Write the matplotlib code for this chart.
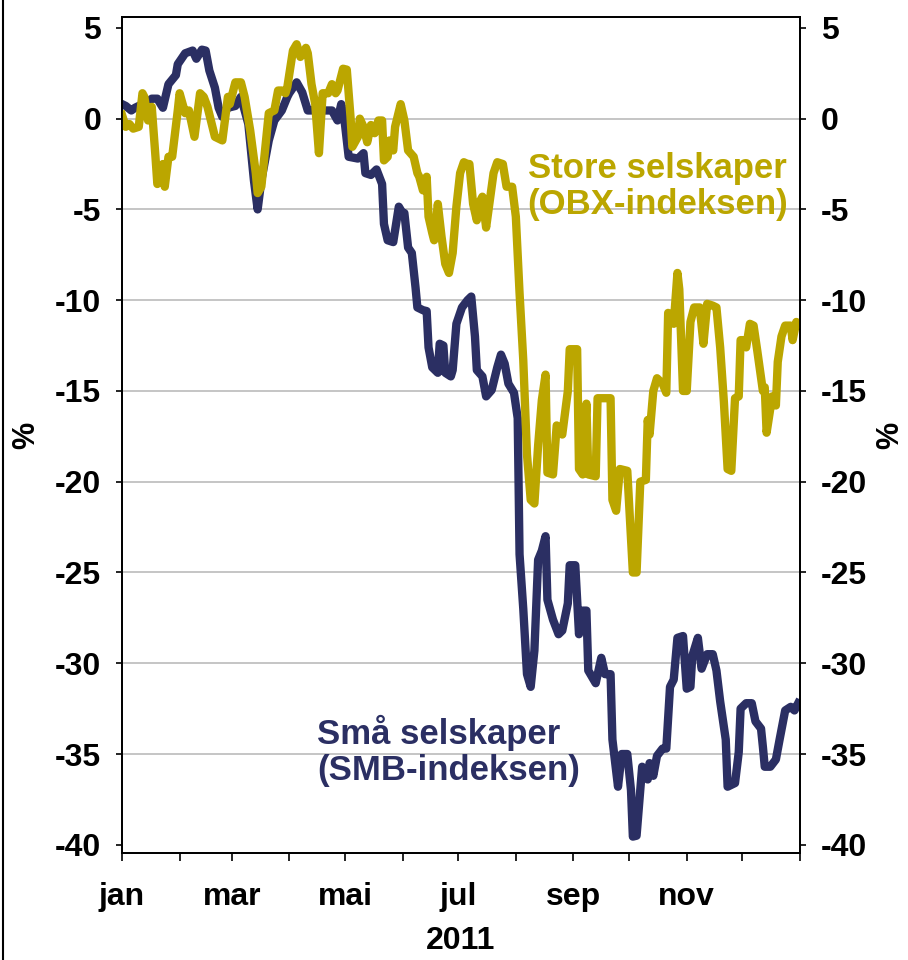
import matplotlib
matplotlib.use('Agg')
import matplotlib.pyplot as plt
import matplotlib.dates as mdates
import numpy as np
import pandas as pd

plt.rcParams['font.family'] = ['Liberation Sans', 'DejaVu Sans']
plt.rcParams['font.weight'] = 'bold'
plt.rcParams['axes.labelweight'] = 'bold'
plt.rcParams['axes.unicode_minus'] = False

# Små selskaper (SMB-indeksen), day of 2011 and % change
smb_days = [0, 2, 5, 7, 11, 14, 16, 19, 22, 25, 29, 30, 34, 38, 40, 43, 45, 47, 50, 52,
            54, 57, 61, 64, 68, 71, 73, 75, 79, 82, 86, 89, 90, 94, 97, 100, 102, 106, 109, 113,
            116, 118, 120, 122, 127, 130, 131, 134, 137, 140, 141, 143, 146, 149, 151, 152, 154, 156, 158, 159,
            162, 164, 165, 167, 170, 171, 173, 174, 177, 178, 180, 183, 186, 188, 190, 191, 194, 196, 199, 202,
            204, 206, 208, 211, 213, 214, 216, 218, 220, 222, 224, 226, 228, 229, 232, 235, 237, 240, 241, 244,
            246, 248, 250, 251, 255, 258, 260, 263, 264, 267, 269, 272, 274, 275, 277, 279, 280, 283, 284, 286,
            288, 291, 293, 295, 297, 299, 302, 304, 306, 307, 310, 312, 315, 318, 320, 322, 325, 326, 330, 332,
            333, 336, 339, 341, 344, 345, 346, 349, 352, 354, 357, 360, 362, 364]
smb_vals = [0.8, 0.7, 0.45, 0.6, 0.8, 0.9, 1.1, 1.1, 0.6, 1.9, 2.4, 3.0, 3.6, 3.75, 3.3, 3.8, 3.75, 2.65, 1.7, 0.6,
            0.1, 0.6, 0.7, 1.2, -0.3, -3.4, -5.0, -3.4, -1.2, -0.1, 0.45, 1.2, 1.4, 2.0, 1.45, 0.45, 0.45, 0.65, 0.45, 0.45,
            -0.1, 0.8, -0.3, -2.1, -2.2, -1.9, -3.0, -3.1, -2.8, -3.6, -5.8, -6.7, -6.8, -4.85, -5.2, -5.2, -7.1, -7.4, -9.3, -10.4,
            -10.55, -10.6, -12.6, -13.7, -14.0, -12.4, -12.5, -14.0, -14.2, -13.85, -11.3, -10.4, -10.0, -9.8, -12.0, -13.85, -14.2, -15.3, -14.95, -13.7,
            -13.0, -13.5, -14.6, -15.1, -16.5, -24.0, -27.0, -30.6, -31.3, -29.3, -24.3, -23.8, -23.0, -26.5, -27.6, -28.4, -28.2, -26.7, -24.6, -24.6,
            -28.4, -27.1, -27.1, -30.4, -31.1, -29.7, -30.6, -30.6, -34.2, -36.8, -35.0, -35.0, -37.0, -39.55, -39.5, -37.0, -35.7, -36.4, -35.5, -36.2,
            -35.1, -34.7, -34.7, -31.3, -30.9, -28.6, -28.5, -31.4, -31.3, -29.6, -28.6, -30.3, -29.5, -29.5, -30.4, -32.1, -34.2, -36.8, -36.6, -34.9,
            -32.5, -32.2, -32.2, -33.2, -33.6, -34.6, -35.7, -35.7, -35.3, -34.2, -32.6, -32.4, -32.6, -32.2]

# Store selskaper (OBX-indeksen)
obx_days = [0, 2, 4, 6, 9, 11, 12, 14, 16, 18, 19, 22, 23, 25, 27, 30, 31, 34, 36, 39,
            42, 44, 46, 50, 54, 57, 58, 61, 64, 66, 69, 72, 73, 75, 77, 79, 82, 84, 86, 88,
            89, 92, 94, 96, 99, 100, 102, 104, 106, 108, 111, 113, 115, 116, 119, 121, 123, 124, 127, 128,
            130, 132, 134, 136, 138, 140, 141, 143, 144, 146, 147, 150, 152, 154, 157, 159, 160, 162, 164, 165,
            167, 168, 170, 172, 174, 176, 178, 180, 182, 184, 186, 187, 189, 191, 193, 194, 196, 198, 200, 202,
            205, 207, 210, 212, 214, 216, 218, 220, 222, 224, 226, 228, 229, 232, 234, 237, 240, 241, 245, 246,
            248, 250, 251, 255, 256, 263, 264, 266, 268, 272, 275, 277, 279, 282, 283, 284, 286, 288, 291, 293,
            294, 297, 299, 300, 302, 304, 306, 308, 311, 313, 315, 318, 320, 322, 324, 326, 328, 330, 332, 333,
            334, 336, 338, 340, 342, 345, 346, 347, 350, 352, 353, 355, 357, 360, 361, 363, 364]
obx_vals = [0.2, -0.45, -0.3, -0.55, -0.45, 1.4, 1.2, -0.1, 0.65, -2.1, -3.6, -2.5, -3.75, -2.1, -2.1, 0.45, 1.4, 0.3, 0.45, -1.0,
            1.4, 1.2, 0.65, -1.0, -1.2, 1.2, 0.8, 2.0, 2.0, 1.2, -0.65, -3.0, -4.1, -3.75, -1.75, 0.3, 0.45, 1.55, 1.55, 1.4,
            1.75, 3.75, 4.1, 3.4, 3.9, 3.6, 1.9, 0.8, -1.9, 1.4, 1.4, 1.9, 1.4, 1.55, 2.75, 2.7, 0.1, -1.55, -1.0, 0.0,
            -0.45, -1.3, -0.35, -0.8, -0.1, -0.1, -2.3, -2.1, -1.2, -1.75, -0.45, 0.8, -0.1, -1.75, -2.1, -3.0, -3.2, -3.95, -3.2, -5.4,
            -6.3, -6.7, -4.7, -6.5, -8.0, -8.5, -7.4, -4.85, -3.0, -2.4, -2.5, -2.5, -4.7, -5.6, -4.5, -4.3, -6.0, -4.5, -3.0, -2.4,
            -2.5, -3.75, -3.75, -5.4, -9.6, -13.3, -18.5, -21.0, -21.2, -18.0, -15.5, -14.1, -19.5, -19.6, -16.9, -17.4, -15.0, -12.7, -12.7, -19.3,
            -19.6, -15.7, -19.6, -19.7, -15.4, -15.4, -21.0, -21.6, -19.3, -19.4, -25.0, -25.0, -20.0, -19.9, -16.6, -17.4, -15.0, -14.3, -14.6, -15.1,
            -10.7, -11.3, -8.5, -9.4, -15.0, -15.0, -11.2, -10.4, -10.4, -12.4, -10.2, -10.3, -10.4, -12.6, -15.6, -19.3, -19.4, -15.4, -15.3, -12.2,
            -12.2, -12.6, -11.3, -11.4, -12.8, -15.0, -14.8, -17.3, -15.3, -15.8, -13.4, -12.0, -11.4, -11.4, -12.2, -11.2, -11.3]

label_dates = ['2011-01-01', '2011-03-01', '2011-05-01', '2011-07-01', '2011-09-01', '2011-11-01']
month_labels = ['jan', 'mar', 'mai', 'jul', 'sep', 'nov']
yticks = np.arange(-40, 6, 5)

navy = '#2B2F63'
gold = '#BBA600'

start = pd.Timestamp('2011-01-01')
smb_dates = start + pd.to_timedelta(smb_days, unit='D')
obx_dates = start + pd.to_timedelta(obx_days, unit='D')

fig = plt.figure(figsize=(9.08, 9.6), dpi=100)
ax = fig.add_axes([0.1344, 0.1115, 0.7467, 0.8708])

for y in yticks[1:-1]:
    ax.axhline(y, color='#C0C0C0', lw=1.3, zorder=0)

ax.plot(smb_dates, smb_vals, color=navy, lw=6, zorder=2)
ax.plot(obx_dates, obx_vals, color=gold, lw=6, zorder=3)

ax.set_xlim(start, pd.Timestamp('2012-01-01'))
ax.set_ylim(-40.45, 5.6)
ax.set_yticks(yticks)
ax.set_xticks(pd.to_datetime(label_dates), labels=month_labels)
ax.xaxis.set_minor_locator(mdates.MonthLocator())

ax.tick_params(axis='x', which='both', direction='out', length=6, width=1.2,
               labelsize=23, pad=15)
ax.tick_params(axis='y', direction='out', length=4, width=1.2, labelsize=23, pad=11)

ax2 = ax.twinx()
ax2.set_ylim(ax.get_ylim())
ax2.set_yticks(yticks)
ax2.tick_params(axis='y', direction='out', length=4, width=1.2, labelsize=23, pad=11)

for a in (ax, ax2):
    for s in a.spines.values():
        s.set_linewidth(1.3)

ax.set_ylabel('%', fontsize=22, labelpad=10)
ax2.set_ylabel('%', fontsize=22, labelpad=6)
ax.set_xlabel('2011', fontsize=23, labelpad=10)

ax.text(0.79, 0.797, 'Store selskaper\n(OBX-indeksen)', transform=ax.transAxes,
        ha='center', va='center', color=gold, fontsize=25, linespacing=1.12)
ax.text(0.2876, 0.122, 'Små selskaper\n(SMB-indeksen)', transform=ax.transAxes,
        ha='left', va='center', color=navy, fontsize=25, linespacing=1.12)

# thin frame line on the left edge of the picture
fig.add_artist(plt.Line2D([0.003, 0.003], [0, 1], color='black', lw=1.5,
                          transform=fig.transFigure))

fig.savefig('out.png', dpi=100)
